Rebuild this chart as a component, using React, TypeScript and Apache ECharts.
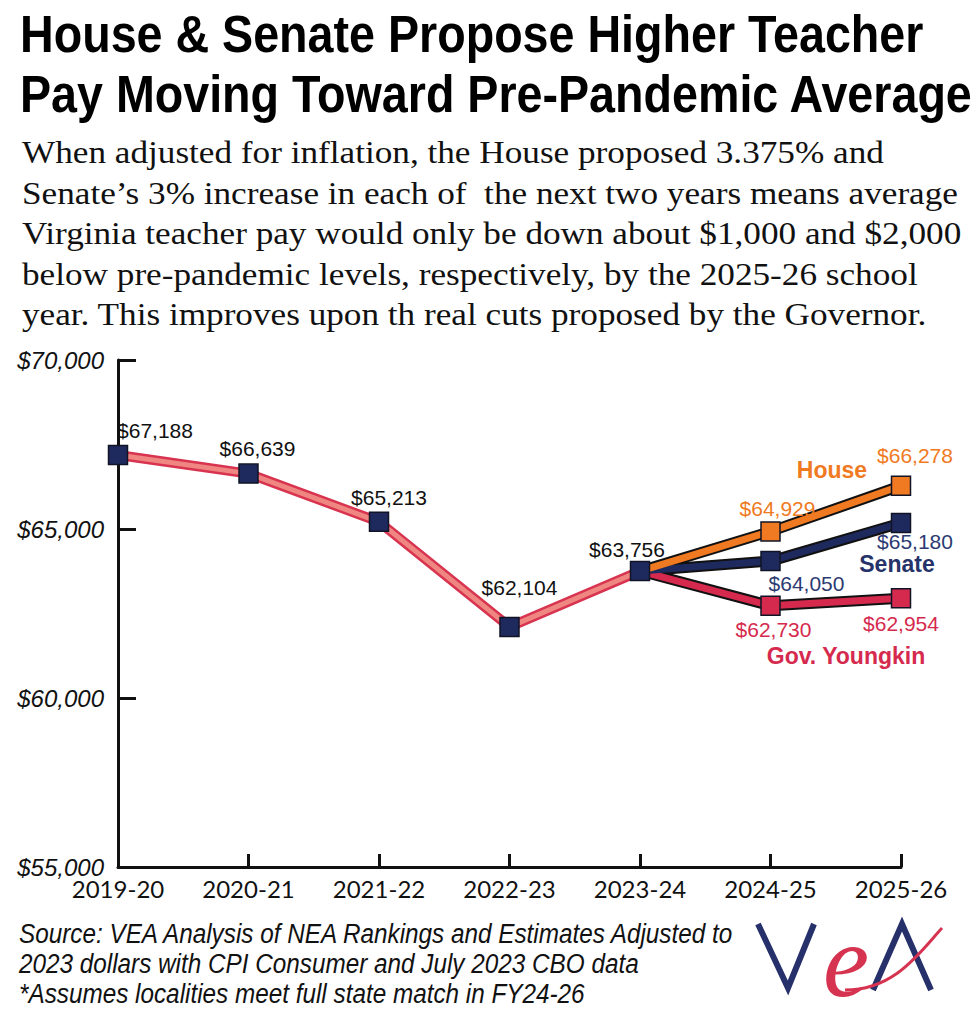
import React, { useEffect, useRef } from 'react';
import * as echarts from 'echarts';

const categories = ['2019-20', '2020-21', '2021-22', '2022-23', '2023-24', '2024-25', '2025-26'];
const actualPay = [67188, 66639, 65213, 62104, 63756, null, null];
const housePay = [null, null, null, null, 63756, 64929, 66278];
const senatePay = [null, null, null, null, 63756, 64050, 65180];
const youngkinPay = [null, null, null, null, 63756, 62730, 62954];

const yMin = 55000;
const yMax = 70000;
const yStep = 5000;

const titleLines = ['House & Senate Propose Higher Teacher', 'Pay Moving Toward Pre-Pandemic Average'];
const subtitleLines = [
  'When adjusted for inflation, the House proposed 3.375% and',
  'Senate\u2019s 3% increase in each of  the next two years means average',
  'Virginia teacher pay would only be down about $1,000 and $2,000',
  'below pre-pandemic levels, respectively, by the 2025-26 school',
  'year. This improves upon th real cuts proposed by the Governor.',
];
const sourceLines = [
  'Source: VEA Analysis of NEA Rankings and Estimates Adjusted to',
  '2023 dollars with CPI Consumer and July 2023 CBO data',
  '*Assumes localities meet full state match in FY24-26',
];

// label layout (style only)
const actualLabelLayout: any[] = [
  ['top', [37, 1]],
  ['top', [9, 1]],
  ['top', [10, 1]],
  ['top', [10, -14]],
  ['top', [-13, 4]],
];
const houseLabelLayout: any[] = [null, null, null, null, null, ['top', [7, 3]], ['top', [14, -5]]];
const senateLabelLayout: any[] = [null, null, null, null, null, ['bottom', [36, -3]], ['bottom', [14, -7]]];
const youngkinLabelLayout: any[] = [null, null, null, null, null, ['bottom', [3, -2]], ['bottom', [0, 0]]];

const NAVY = '#1e2a5e';
const ORANGE = '#f07a22';
const CRIMSON = '#d52a4e';
const PINK = '#ef8682';
const SANS = '"Liberation Sans", Arial, sans-serif';

const money = (v: number) => '$' + v.toLocaleString('en-US');

function buildData(values: (number | null)[], layout: any[], color: string, branchStart: boolean) {
  return values.map((v, i) => {
    if (v === null) return null;
    const l = layout[i];
    const item: any = { value: v };
    if (branchStart && i === 4) {
      item.symbol = 'none';
      item.label = { show: false };
    } else if (l) {
      item.label = {
        show: true,
        position: l[0],
        offset: l[1],
        distance: 5,
        color,
        fontFamily: SANS,
        fontSize: 21,
        formatter: (p: any) => money(p.value),
      };
    }
    return item;
  });
}

function outlineSeries(values: (number | null)[], color: string, width: number, z: number) {
  return {
    type: 'line',
    data: values,
    showSymbol: false,
    symbol: 'none',
    silent: true,
    z,
    lineStyle: { color, width, cap: 'butt', join: 'round' },
    label: { show: false },
  };
}

function colorSeries(
  values: (number | null)[],
  layout: any[],
  lineColor: string,
  markerColor: string,
  labelColor: string,
  width: number,
  z: number,
  branch: boolean
) {
  return {
    type: 'line',
    data: buildData(values, layout, labelColor, branch),
    symbol: 'rect',
    symbolSize: 19,
    showAllSymbol: true,
    z,
    lineStyle: { color: lineColor, width, join: 'round' },
    itemStyle: { color: markerColor, borderColor: '#111426', borderWidth: 1.5 },
  };
}

export default function App() {
  const ref = useRef<HTMLDivElement>(null);
  useEffect(() => {
    document.body.style.margin = '0';
    const chart = echarts.init(ref.current!, null, { renderer: 'svg' });
    const option: any = {
      animation: false,
      backgroundColor: '#ffffff',
      grid: { left: 118, right: 75, top: 360, bottom: 157, containLabel: false },
      xAxis: {
        type: 'category',
        data: categories,
        boundaryGap: false,
        axisLine: { lineStyle: { color: '#111', width: 3 } },
        axisTick: { show: true, inside: true, length: 13, lineStyle: { color: '#111', width: 3 } },
        axisLabel: { color: '#111', fontFamily: 'Lato, "Open Sans", sans-serif', fontSize: 24, margin: 9 },
        splitLine: { show: false },
      },
      yAxis: {
        type: 'value',
        min: yMin,
        max: yMax,
        interval: yStep,
        axisLine: { show: true, lineStyle: { color: '#111', width: 3 } },
        axisTick: { show: true, inside: true, length: 18, lineStyle: { color: '#111', width: 3 } },
        axisLabel: {
          color: '#111',
          fontFamily: SANS,
          fontStyle: 'italic',
          fontSize: 24,
          margin: 14,
          formatter: (v: number) => money(v),
        },
        splitLine: { show: false },
      },
      series: [
        outlineSeries(youngkinPay, '#111', 11, 2),
        colorSeries(youngkinPay, youngkinLabelLayout, CRIMSON, CRIMSON, CRIMSON, 7, 3, true),
        outlineSeries(senatePay, '#111', 11, 2),
        colorSeries(senatePay, senateLabelLayout, NAVY, NAVY, '#2c3a72', 7, 3, true),
        outlineSeries(housePay, '#111', 11, 2),
        colorSeries(housePay, houseLabelLayout, ORANGE, ORANGE, ORANGE, 7, 3, true),
        outlineSeries(actualPay, '#d8344f', 10, 4),
        colorSeries(actualPay, actualLabelLayout, PINK, NAVY, '#111', 5, 5, false),
      ],
      graphic: [
        {
          type: 'text',
          x: 20,
          y: 4,
          scaleX: 0.897,
          style: {
            text: titleLines.join('\n'),
            fontFamily: SANS,
            fontWeight: 'bold',
            fontSize: 52,
            lineHeight: 60,
            fill: '#000',
          },
        },
        {
          type: 'text',
          x: 22,
          y: 132,
          scaleX: 1.1,
          style: {
            text: subtitleLines.join('\n'),
            fontFamily: '"Liberation Serif", "DejaVu Serif", serif',
            fontSize: 32,
            lineHeight: 40.5,
            fill: '#111',
          },
        },
        {
          type: 'text',
          x: 19,
          y: 919,
          scaleX: 0.9,
          style: {
            text: sourceLines.join('\n'),
            fontFamily: SANS,
            fontStyle: 'italic',
            fontSize: 27,
            lineHeight: 30,
            fill: '#111',
          },
        },
        {
          type: 'text',
          x: 832,
          y: 470,
          style: { text: 'House', fontFamily: SANS, fontWeight: 'bold', fontSize: 23, fill: ORANGE, align: 'center', verticalAlign: 'middle' },
        },
        {
          type: 'text',
          x: 897,
          y: 564,
          style: { text: 'Senate', fontFamily: SANS, fontWeight: 'bold', fontSize: 23, fill: '#26336a', align: 'center', verticalAlign: 'middle' },
        },
        {
          type: 'text',
          x: 846,
          y: 656,
          style: { text: 'Gov. Youngkin', fontFamily: SANS, fontWeight: 'bold', fontSize: 23, fill: CRIMSON, align: 'center', verticalAlign: 'middle' },
        },
        // VEA logo
        {
          type: 'polyline',
          shape: { points: [[758, 924], [788, 988], [814, 924]] },
          style: { stroke: '#26306a', lineWidth: 6, fill: null, lineJoin: 'miter' },
        },
        {
          type: 'polyline',
          shape: { points: [[873, 990], [902, 924], [931, 990]] },
          style: { stroke: '#26306a', lineWidth: 6, fill: null, lineJoin: 'miter' },
        },
        {
          type: 'text',
          x: 846,
          y: 960,
          z: 10,
          style: {
            text: 'e',
            fontFamily: '"Liberation Serif", serif',
            fontStyle: 'italic',
            fontSize: 104,
            fill: '#d63350',
            align: 'center',
            verticalAlign: 'middle',
          },
        },
        {
          type: 'bezierCurve',
          z: 11,
          shape: { x1: 845, y1: 990, x2: 942, y2: 928, cpx1: 895, cpy1: 990, cpx2: 920, cpy2: 952 },
          style: { stroke: '#d63350', lineWidth: 3, fill: null },
        },
      ],
    };
    chart.setOption(option);
    return () => chart.dispose();
  }, []);
  return <div ref={ref} style={{ width: 976, height: 1024 }} />;
}
